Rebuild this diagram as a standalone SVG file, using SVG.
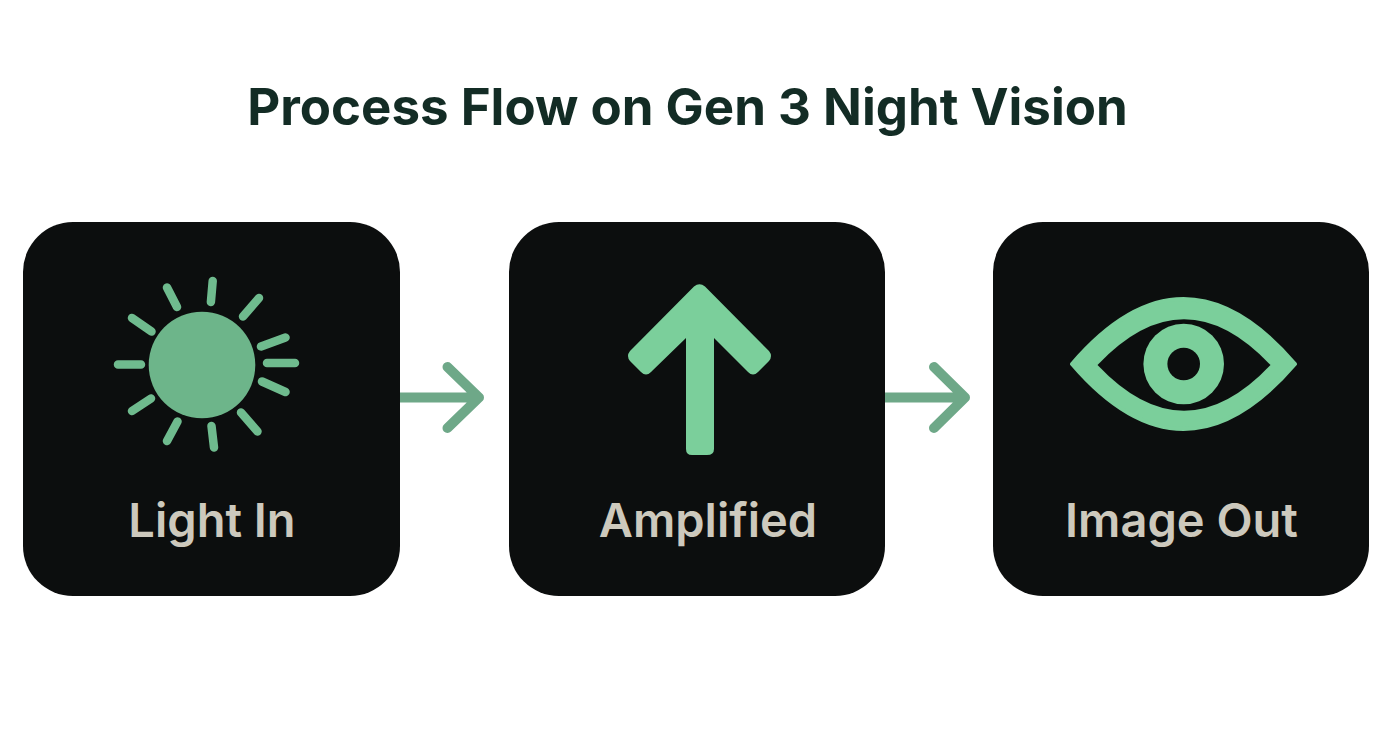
<svg xmlns="http://www.w3.org/2000/svg" width="1392" height="752" viewBox="0 0 1392 752">
<style>
.card{fill:#0c0e0e}
.lbl{font-family:Inter,"Liberation Sans",sans-serif;font-size:47px;font-weight:600;fill:#cdc9bd;text-anchor:middle}
.title{font-family:Inter,"Liberation Sans",sans-serif;font-size:51px;font-weight:700;fill:#132c25;text-anchor:middle}
.ray{stroke:#6fbb8e;stroke-width:8.5;stroke-linecap:round;fill:none}
.conn{stroke:#6ea888;stroke-width:10;fill:none;stroke-linecap:round;stroke-linejoin:round}
.icon{fill:#7bcf9b}
</style>
<rect width="1392" height="752" fill="#fff"/>
<text class="title" x="687.5" y="125">Process Flow on Gen 3 Night Vision</text>
<g id="connectors">
<path class="conn" d="M395 397.500H479M447.500 367L479 397.500L447.500 428"/>
<path class="conn" d="M880 397.500H965M934 367L965 397.500L934 428"/>
</g>
<g id="node-light-in">
<rect class="card" x="23" y="222" width="377" height="374" rx="50"/>
<circle cx="202" cy="365" r="53.300" fill="#6db58a"/>
<path class="ray" d="M212.700 281L210.900 302M259 298L243 316.500M285.500 337.500L261 346.500M295 363H267M285.500 392L262 381.500M257.500 431.500L241 412.500M214 447.500L211.500 426M167 441L177.500 421.500M132 411L151 398.500M118 364.500H141M132 318L151.500 331.500M167 287.500L177 307"/>
<text class="lbl" x="212" y="537">Light In</text>
</g>
<g id="node-amplified">
<rect class="card" x="509" y="222" width="376" height="374" rx="50"/>
<path class="icon" d="M694 286.500Q699.500 282 705 286.500L769 351Q773 356 769 361L758 372Q753 377 748 372L714 338V449Q714 455 707 455H692Q686 455 686 449V338L651 372Q646 377 641 372L630 361Q626 356 630 351Z"/>
<text class="lbl" x="708" y="537">Amplified</text>
</g>
<g id="node-image-out">
<rect class="card" x="993" y="222" width="376" height="374" rx="50"/>
<path class="icon" stroke="#7bcf9b" stroke-width="4" stroke-linejoin="round" d="M1072 364Q1183.500 234 1295 364Q1183.500 494 1072 364Z"/>
<path class="card" d="M1097.500 365Q1184 273.500 1270.500 365Q1184 456.500 1097.500 365Z"/>
<circle class="icon" cx="1183.700" cy="364" r="40.300"/>
<circle class="card" cx="1183.700" cy="364" r="16.300"/>
<text class="lbl" x="1181.500" y="537">Image Out</text>
</g>
</svg>
